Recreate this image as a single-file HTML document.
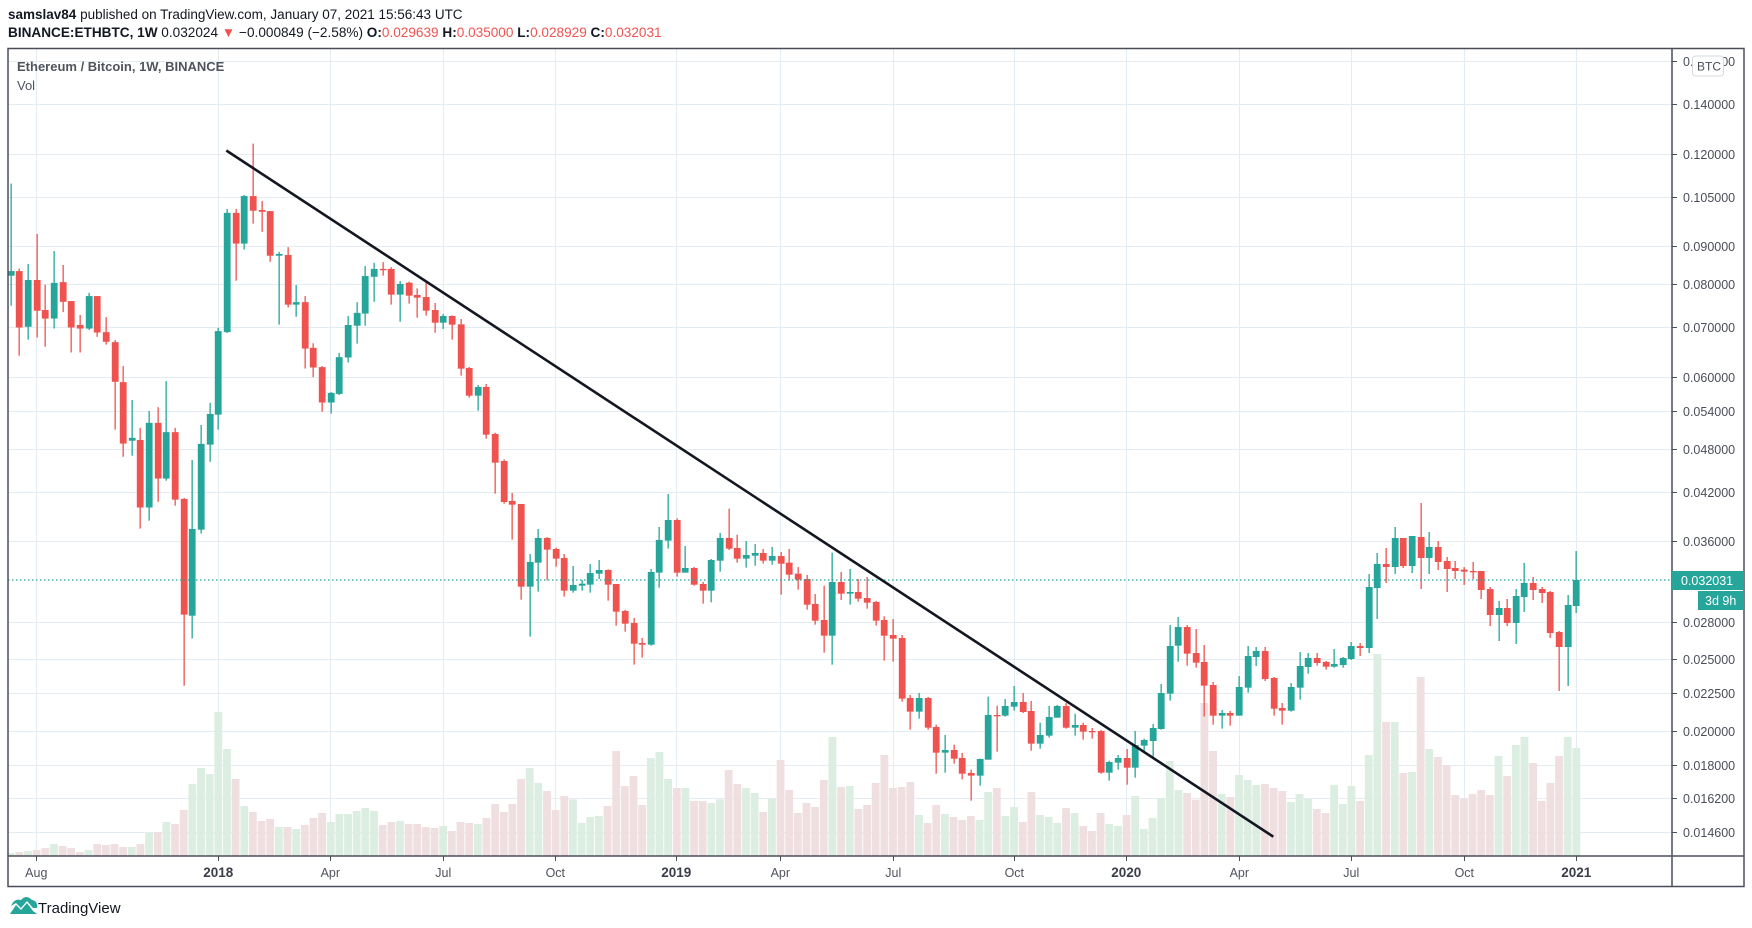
<!DOCTYPE html>
<html><head><meta charset="utf-8">
<style>
html,body{margin:0;padding:0;background:#fff;width:1752px;height:928px;overflow:hidden;font-family:"Liberation Sans",sans-serif;}
svg{display:block}
</style></head>
<body>
<svg id="s" width="1752" height="928" xmlns="http://www.w3.org/2000/svg" font-family="Liberation Sans, sans-serif">
<rect width="1752" height="928" fill="#fff"/>
<g id="grid"></g>
<g id="vol"></g>
<g id="cand"></g>
<line x1="8" y1="580" x2="1672" y2="580" stroke="#26a69a" stroke-width="1.2" stroke-dasharray="1.5,2.5"/>
<line x1="226.3" y1="150.5" x2="1273.3" y2="836.7" stroke="#131722" stroke-width="2.6"/>
<g id="axis"></g>
<rect x="8" y="48.5" width="1736" height="838" fill="none" stroke="#4a4e5a" stroke-width="1.5"/>
<line x1="1672" y1="48.5" x2="1672" y2="887" stroke="#4a4e5a" stroke-width="1.5"/>
<line x1="8" y1="856" x2="1744" y2="856" stroke="#4a4e5a" stroke-width="1.5"/>
<text x="8" y="19" font-size="13.5" fill="#131722"><tspan font-weight="bold">samslav84</tspan> published on TradingView.com, January 07, 2021 15:56:43 UTC</text>
<text x="8" y="37" font-size="13.6" fill="#131722"><tspan font-weight="bold">BINANCE:ETHBTC, 1W</tspan>  0.032024 <tspan fill="#ef5350">▼</tspan> −0.000849 (−2.58%) <tspan font-weight="bold">O:</tspan><tspan fill="#ef5350">0.029639</tspan> <tspan font-weight="bold">H:</tspan><tspan fill="#ef5350">0.035000</tspan> <tspan font-weight="bold">L:</tspan><tspan fill="#ef5350">0.028929</tspan> <tspan font-weight="bold">C:</tspan><tspan fill="#ef5350">0.032031</tspan></text>
<text x="17" y="71" font-size="13" font-weight="bold" fill="#50535e">Ethereum / Bitcoin, 1W, BINANCE</text>
<text x="17" y="90" font-size="13" fill="#50535e">Vol</text>
<rect x="1672" y="571" width="72" height="19" fill="#26a69a"/>
<text x="1681" y="585" font-size="12.5" fill="#fff">0.032031</text>
<rect x="1698" y="591" width="46" height="19" fill="#26a69a"/>
<text x="1705" y="605" font-size="12.5" fill="#fff">3d 9h</text>
<rect x="1692.5" y="56" width="31" height="20" rx="3" fill="#fff" stroke="#d6d8de"/>
<text x="1697" y="70.5" font-size="12" fill="#4a4e5a">BTC</text>
<g transform="translate(8,896)">
<path d="M2 18 L8 9 L13 14 L19 7 L25 15 L29 18 Z" fill="#26a69a"/>
<path d="M3 10 Q6 2 13 4 Q18 -2 24 4 Q30 5 29 12 L25 12 L19 5 L13 12 L8 7 Z" fill="#26a69a"/>
</g>
<text x="38" y="913" font-size="15" fill="#131722">TradingView</text>
</svg>
<script>
(function(){
var NS="http://www.w3.org/2000/svg";
function el(p,n,a){var e=document.createElementNS(NS,n);for(var k in a)e.setAttribute(k,a[k]);p.appendChild(e);return e;}
var grid=document.getElementById('grid'),vol=document.getElementById('vol'),cand=document.getElementById('cand'),axis=document.getElementById('axis');
function Y(p){return 104+322*Math.log(0.14/p);}
var prices=[0.16,0.14,0.12,0.105,0.09,0.08,0.07,0.06,0.054,0.048,0.042,0.036,0.028,0.025,0.0225,0.02,0.018,0.0162,0.0146];
prices.forEach(function(p){var y=Math.round(Y(p))+0.5;
 el(grid,'line',{x1:8,y1:y,x2:1672,y2:y,stroke:'#e3ecf3','stroke-width':1});
 el(axis,'line',{x1:1672,y1:y,x2:1677,y2:y,stroke:'#4a4e5a','stroke-width':1});
 var t=el(axis,'text',{x:1683,y:y+4.5,'font-size':12.5,fill:'#4a4e5a'});t.textContent=p.toFixed(6);
});
var months=[[36.3,'Aug',0],[218.3,'2018',1],[330.3,'Apr',0],[443.3,'Jul',0],[555.3,'Oct',0],[676.3,'2019',1],[780.3,'Apr',0],[893.3,'Jul',0],[1014.3,'Oct',0],[1126.3,'2020',1],[1239.3,'Apr',0],[1351.3,'Jul',0],[1464.3,'Oct',0],[1576.3,'2021',1]];
months.forEach(function(m){var x=Math.round(m[0])+0.5;
 el(grid,'line',{x1:x,y1:48,x2:x,y2:856,stroke:'#e3ecf3','stroke-width':1});
 el(axis,'line',{x1:x,y1:856,x2:x,y2:861,stroke:'#4a4e5a','stroke-width':1});
 var t=el(axis,'text',{x:m[0],y:877,'font-size':m[2]?13.5:12.5,'text-anchor':'middle',fill:m[2]?'#3a3e4a':'#50535e','font-weight':m[2]?'bold':'normal'});t.textContent=m[1];
});
function X(i){return 10.7+8.65*i;}
var colors=[];
var A=[[1,150,395,408,492],[0,388,395,553,632],[1,375,420,551,587],[0,291,420,506,581],[0,433,504,528,607],[1,339,428,528,556],[0,378,426,481,510],[0,479,479,553,623],[0,518,546,556,623],[1,456,465,556,560],[0,465,465,567,579],[0,524,566,593,601],[0,588,594,705,839],[0,661,706,878,915],[1,756,862,870,912],[0,834,868,1057,1116],[1,787,820,1057,1094],[0,776,820,976,1041],[1,703,846,976,982],[0,834,846,1035,1052],[0,1030,1033,1357,1556],[1,924,1117,1360,1424],[1,826,879,1119,1130],[1,764,795,881,929],[1,554,563,797,839],[1,221,232,566,568],[0,221,232,318,422],[1,182,185,318,335],[0,38,185,226,262],[0,199,224,229,285],[0,227,227,352,369],[1,341,347,352,545],[0,328,350,489,497],[1,434,482,489,523],[0,465,482,612,668],[0,597,610,665,692],[0,661,664,763,789],[1,734,736,763,794],[1,624,636,739,742],[1,521,546,637,651],[1,482,512,548,598],[1,381,409,514,548],[1,372,389,411,481],[0,370,389,392,408],[0,384,389,461,489],[1,423,431,461,537]];
var B=[[0,155,158,197,221],[0,175,195,203,263],[0,158,201,242,257],[0,219,240,278,308],[1,252,258,278,297],[0,256,258,284,329],[0,267,283,416,437],[0,411,414,497,503],[1,465,471,497,542],[0,462,471,614,626],[0,608,612,698,791],[0,688,693,816,821],[0,789,813,824,929],[0,822,822,1070,1109],[1,972,996,1070,1220],[1,897,924,998,1085],[0,921,924,959,1051],[0,953,957,986,1010],[0,972,984,1082,1100],[1,1008,1065,1082,1088],[1,1050,1061,1067,1082],[1,1002,1029,1064,1088],[1,990,1020,1031,1047],[0,1018,1020,1064,1112],[0,1062,1062,1145,1187],[0,1139,1143,1181,1205],[0,1164,1179,1241,1304],[0,1224,1239,1244,1283],[1,1017,1026,1244,1247],[1,891,930,1028,1073],[1,792,870,932,956],[0,865,870,1028,1040],[1,948,1014,1028,1028],[0,1011,1014,1064,1067],[0,1056,1062,1082,1121],[1,987,990,1082,1117],[1,909,924,992,1025],[0,836,924,956,960],[0,914,954,986,998],[1,933,975,986,1013],[1,942,969,977,1007],[0,957,969,992,1001],[1,951,978,992,1004],[0,966,978,1001,1094],[0,957,998,1034,1052],[0,1011,1031,1049,1079],[0,1035,1047,1124,1139],[0,1092,1122,1172,1184],[0,1067,1170,1217,1268]];
var C=[[1,38,126,287,374],[0,96,126,161,180],[1,87,156,161,194],[0,117,156,176,185],[0,111,174,188,206],[0,183,186,242,257],[0,229,240,287,362],[0,237,285,296,365],[0,285,294,476,485],[0,465,474,515,569],[1,459,474,515,536],[0,471,474,563,569],[0,554,561,638,701],[1,585,630,638,698],[0,614,630,656,671],[0,639,654,701,718],[0,689,699,707,782],[1,656,657,707,737],[1,470,525,659,659],[0,497,525,527,635],[1,477,498,527,530],[1,438,486,500,512],[0,459,486,516,519],[0,483,513,611,632],[1,548,585,611,626],[1,498,531,587,593],[1,495,498,533,533],[0,489,498,563,566],[1,521,555,563,587],[0,548,555,575,599],[0,564,573,575,596],[0,570,573,698,701],[1,662,666,698,722],[1,645,654,668,689],[0,627,654,683,734],[1,573,615,683,713],[1,596,600,617,635],[1,552,564,603,650],[1,432,459,567,569],[1,255,318,461,482],[1,231,261,317,365],[0,255,261,341,377],[0,267,339,368,383],[0,315,366,437,530],[0,426,435,527,554],[1,510,519,527,566],[0,513,519,527,557]];
var D=[[1,588,621,707,707],[1,498,528,623,638],[1,501,513,531,558],[0,501,513,597,603],[0,591,594,686,707],[0,669,684,692,734],[1,609,621,692,695],[1,516,558,623,659],[1,519,534,561,581],[0,519,534,549,557],[0,543,546,560,569],[1,507,552,560,563],[1,531,534,555,563],[1,486,498,537,540],[0,489,498,504,528],[1,282,321,504,519],[1,219,252,324,417],[0,204,252,261,309],[1,141,174,261,282],[0,174,174,258,264],[1,168,168,258,279],[0,69,171,234,327],[1,156,201,234,282],[0,183,201,246,270],[0,231,243,267,336],[0,243,264,273,297],[0,261,269,275,315],[0,246,273,276,297],[0,273,273,330,357],[0,321,327,405,438],[1,363,384,405,483],[0,357,384,429,438],[1,327,348,429,492],[1,249,309,351,396],[0,291,309,330,360],[0,321,327,339,369],[0,333,336,459,474],[0,453,456,501,633],[1,345,375,501,618],[1,213,300,378,399]];
function addC(arr,start,base,div){arr.forEach(function(d,k){var i=start+k;var x=X(i);var col=d[0]?'#26a69a':'#ef5350';colors[i]=d[0];
 var wt=base+d[1]/div,bt=base+d[2]/div,bb=base+d[3]/div,wb=base+d[4]/div;
 el(cand,'rect',{x:Math.round(x)-0.5,y:wt,width:1.3,height:Math.max(1,wb-wt),fill:col});
 el(cand,'rect',{x:Math.round(x)-3.2,y:bt,width:6.8,height:Math.max(1.3,bb-bt),fill:col});
});}
addC(A,0,130,2.8);addC(B,46,230,3);addC(C,95,540,3);addC(D,142,480,3);
var V1=[459,456,453,450,444,432,438,444,456,450,432,435,432,441,441,432,399,396,366,372,330,252,204,222,36,147,237,318,336,363,357,381,381,387,375,354,339,366,342,342,333,324,333,375,366,363,372,372,381,384,378,393,366,369,372,354,312,336,312,237,204,249,273,330,288,298,369,351,348,318,153,258,228,315,174,156,237,264,264,303,303,309,298,210,252,264,279,336,294,180,270,339,309,321,240,111];
var V2=[741,738,807,795,729,645,744,741,726,825,849,795,822,831,840,828,840,756,744,828,801,846,756,825,831,849,804,819,858,873,819,852,858,825,768,867,834,774,663,750,759,779,489,633,762];
var V3=[951,885,900,915,912,924,933,966,942,957,987,999,915,972,918,963,825,522,726,726,879,876,591,807,831,855,945,957,942,930,945,828,888,795,771,849,963,909,828,771,804];
function addV(arr,start,base){arr.forEach(function(z,k){var i=start+k;var y=base+z/3;var x=X(i);
 el(vol,'rect',{x:x-3.9,y:y,width:7.8,height:Math.max(0,856-y),fill:colors[i]?'#dcede1':'#efdfe0'});});}
addV(V1,0,700);addV(V2,96,540);addV(V3,141,480);
})();
</script>
</body></html>
